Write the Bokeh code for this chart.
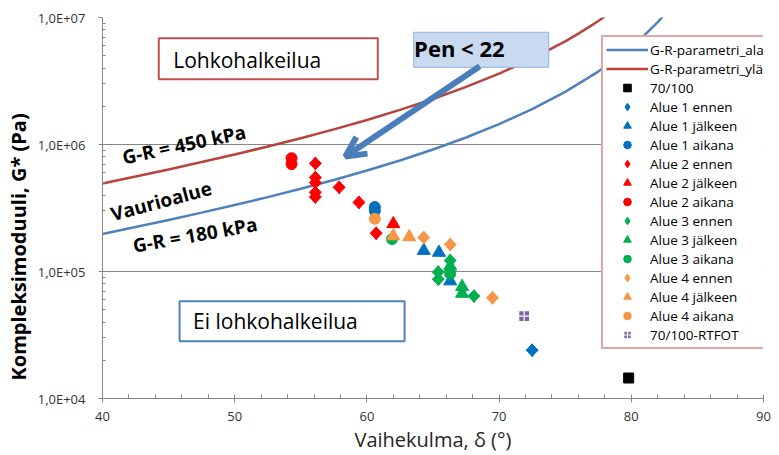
import math
from bokeh.plotting import figure
from bokeh.models import (Legend, LegendItem, Label, Arrow, OpenHead, Title,
                          SingleIntervalTicker, FixedTicker)
from bokeh.embed import file_html
from bokeh.resources import INLINE

FONT = "Open Sans"

# ---- G-R parameter curves ----
gr_ala_delta = [40, 42.5, 45, 47.5, 50, 52.5, 55, 57.5, 60, 62.5, 65, 67.5,
                70, 72.5, 75, 77.5, 79, 80, 81, 82, 83]
gr_ala_g = [1.972e5, 2.237e5, 2.546e5, 2.908e5, 3.337e5, 3.853e5, 4.482e5,
            5.259e5, 6.235e5, 7.489e5, 9.134e5, 1.1355e6, 1.4458e6, 1.8985e6,
            2.595e6, 3.751e6, 4.853e6, 5.879e6, 7.265e6, 9.20e6, 1.203e7]
gr_yla_delta = [40, 42.5, 45, 47.5, 50, 52.5, 55, 57.5, 60, 62.5, 65, 67.5,
                70, 72.5, 75, 76, 77, 77.5, 78.5]
gr_yla_g = [4.93e5, 5.59e5, 6.364e5, 7.27e5, 8.34e5, 9.63e5, 1.1205e6,
            1.315e6, 1.559e6, 1.872e6, 2.2835e6, 2.839e6, 3.6145e6, 4.746e6,
            6.488e6, 7.46e6, 8.667e6, 9.378e6, 1.109e7]

# ---- measured points: phase angle (deg), complex modulus (Pa) ----
b7100_d = [79.8]
b7100_g = [1.45e4]
a1_ennen_d = [72.5, 66.3]
a1_ennen_g = [2.4e4, 1.05e5]
a1_jalkeen_d = [64.3, 65.45, 66.3]
a1_jalkeen_g = [1.46e5, 1.41e5, 8.4e4]
a1_aikana_d = [60.6, 60.6]
a1_aikana_g = [3.22e5, 3.0e5]
a2_ennen_d = [56.1, 56.1, 56.1, 56.1, 56.1, 57.9, 59.4, 60.7]
a2_ennen_g = [7.1e5, 5.5e5, 5.0e5, 4.2e5, 3.86e5, 4.6e5, 3.5e5, 2.0e5]
a2_jalkeen_d = [62.0]
a2_jalkeen_g = [2.37e5]
a2_aikana_d = [54.3, 54.3]
a2_aikana_g = [7.8e5, 7.0e5]
a3_ennen_d = [65.4, 65.4, 66.3, 68.1]
a3_ennen_g = [9.9e4, 8.7e4, 1.22e5, 6.4e4]
a3_jalkeen_d = [66.3, 67.2, 67.2]
a3_jalkeen_g = [1.1e5, 7.6e4, 6.7e4]
a3_aikana_d = [61.9, 66.3]
a3_aikana_g = [1.8e5, 9.6e4]
a4_ennen_d = [64.3, 66.3, 69.5]
a4_ennen_g = [1.85e5, 1.63e5, 6.2e4]
a4_jalkeen_d = [62.0, 63.2]
a4_jalkeen_g = [1.9e5, 1.87e5]
a4_aikana_d = [60.6]
a4_aikana_g = [2.6e5]
rtfot_d = [71.9]
rtfot_g = [4.45e4]

y_ticks = [1e4, 1e5, 1e6, 1e7]
y_labels = ["1,0E+04", "1,0E+05", "1,0E+06", "1,0E+07"]

BLUE_L = "#4F81BD"
RED_L = "#B8433F"
BLUE = "#0070C0"
RED = "#FF0000"
GREEN = "#00B050"
ORANGE = "#F79646"
PURPLE = "#8064A2"
AXC = "#868686"

p = figure(width=779, height=455, x_range=(40, 90), y_range=(1e4, 1e7),
           y_axis_type="log", output_backend="svg", toolbar_location=None,
           min_border_left=99, min_border_right=16, min_border_top=17,
           min_border_bottom=54)
p.outline_line_color = None
p.xgrid.visible = False
p.ygrid.grid_line_color = AXC
p.ygrid.grid_line_width = 1

minor_y = [m * 10 ** k for k in range(4, 7) for m in range(2, 10)]
p.yaxis.ticker = FixedTicker(ticks=y_ticks, minor_ticks=minor_y)
p.ygrid.ticker = FixedTicker(ticks=y_ticks)
p.yaxis.major_label_overrides = {t: l for t, l in zip(y_ticks, y_labels)}
p.xaxis.ticker = SingleIntervalTicker(interval=10, num_minor_ticks=5)

for ax in (p.xaxis[0], p.yaxis[0]):
    ax.axis_line_color = AXC
    ax.major_tick_line_color = AXC
    ax.minor_tick_line_color = AXC
    ax.major_label_text_font = FONT
    ax.major_label_text_font_size = "13px"
    ax.major_label_text_color = "#333333"
p.yaxis.major_tick_out = 4
p.yaxis.major_tick_in = 0
p.yaxis.minor_tick_in = 3
p.yaxis.minor_tick_out = 0
p.yaxis.major_label_standoff = 13
p.xaxis.major_tick_out = 4
p.xaxis.major_tick_in = 3
p.xaxis.minor_tick_in = 4
p.xaxis.minor_tick_out = 0
p.xaxis.major_label_standoff = 9

p.xaxis.axis_label = "Vaihekulma, δ (°)"
p.xaxis.axis_label_text_font = FONT
p.xaxis.axis_label_text_font_size = "20px"
p.xaxis.axis_label_text_font_style = "normal"
p.xaxis.axis_label_text_color = "#262626"
p.xaxis.axis_label_standoff = 2

# y-axis title, placed lower than the frame centre as in the reference
p.add_layout(Title(text="Kompleksimoduuli, G* (Pa)", align="left", offset=18,
                   text_font=FONT, text_font_size="20px",
                   text_font_style="bold", text_color="black", standoff=5),
             "left")

# G-R lines
r_ala = p.line(gr_ala_delta, gr_ala_g, line_color=BLUE_L, line_width=2.5)
r_yla = p.line(gr_yla_delta, gr_yla_g, line_color=RED_L, line_width=2.5)

# annotation boxes (drawn over the lines)
box_x = [52.54, 54.34, 68.65]
box_y = [4.74e6, 4.06e4, 5.57e6]
box_w = [219, 225, 135]
box_h = [41, 40, 35]
p.rect(x=box_x[:1], y=box_y[:1], width=box_w[0], height=box_h[0],
       width_units="screen", height_units="screen",
       fill_color="white", line_color="#C0504D", line_width=2)
p.rect(x=box_x[1:2], y=box_y[1:2], width=box_w[1], height=box_h[1],
       width_units="screen", height_units="screen",
       fill_color="white", line_color=BLUE_L, line_width=2)
p.rect(x=box_x[2:], y=box_y[2:], width=box_w[2], height=box_h[2],
       width_units="screen", height_units="screen",
       fill_color="#C9D9EF", line_color="#8DB3E2", line_width=1)

# scatter series
def sc(d, g, marker, color, size, angle=0.0, line_color=None, lw=1):
    return p.scatter(d, g, marker=marker, size=size, angle=angle,
                     fill_color=color,
                     line_color=line_color if line_color else color,
                     line_width=lw)

def dia(d, g, color):
    # diamond glyph (shown in legend) with a rotated square over it
    r = sc(d, g, "diamond", color, 13)
    sc(d, g, "square", color, 8.5, math.pi / 4)
    return r

r_b = sc(b7100_d, b7100_g, "square", "black", 10)
r1e = dia(a1_ennen_d, a1_ennen_g, BLUE)
r1j = sc(a1_jalkeen_d, a1_jalkeen_g, "triangle", BLUE, 13)
r1a = sc(a1_aikana_d, a1_aikana_g, "circle", BLUE, 11)
r2e = dia(a2_ennen_d, a2_ennen_g, RED)
r2j = sc(a2_jalkeen_d, a2_jalkeen_g, "triangle", RED, 13)
r2a = sc(a2_aikana_d, a2_aikana_g, "circle", RED, 11)
r3e = dia(a3_ennen_d, a3_ennen_g, GREEN)
r3j = sc(a3_jalkeen_d, a3_jalkeen_g, "triangle", GREEN, 13)
r3a = sc(a3_aikana_d, a3_aikana_g, "circle", GREEN, 11)
r4e = dia(a4_ennen_d, a4_ennen_g, ORANGE)
r4j = sc(a4_jalkeen_d, a4_jalkeen_g, "triangle", ORANGE, 13)
r4a = sc(a4_aikana_d, a4_aikana_g, "circle", ORANGE, 11)
r_rt = sc(rtfot_d, rtfot_g, "square_cross", PURPLE, 11, line_color="white", lw=1.2)

# text annotations
def lab(x, y, text, size, bold=False, angle_deg=0.0, align="left", color="black"):
    p.add_layout(Label(x=x, y=y, text=text, text_font=FONT,
                       text_font_size=size,
                       text_font_style="bold" if bold else "normal",
                       text_color=color, angle=math.radians(angle_deg),
                       text_align=align, text_baseline="middle"))

lab(45.35, 4.61e6, "Lohkohalkeilua", "21px")
lab(46.85, 4.06e4, "Ei lohkohalkeilua", "21px")
lab(63.57, 5.73e6, "Pen < 22", "22px", bold=True)
lab(46.17, 1.0e6, "G-R = 450 kPa", "19px", bold=True, angle_deg=12, align="center")
lab(44.44, 3.59e5, "Vaurioalue", "19px", bold=True, angle_deg=15, align="center")
lab(47.0, 1.945e5, "G-R = 180 kPa", "19px", bold=True, angle_deg=10, align="center")

p.add_layout(Arrow(x_start=68.54, y_start=4.14e6, x_end=58.37, y_end=8.05e5,
                   line_color="#4A7EBB", line_width=6,
                   end=OpenHead(line_color="#4A7EBB", line_width=6, size=20)))

labels = ["G-R-parametri_ala", "G-R-parametri_ylä", "70/100", "Alue 1 ennen",
          "Alue 1 jälkeen", "Alue 1 aikana", "Alue 2 ennen", "Alue 2 jälkeen",
          "Alue 2 aikana", "Alue 3 ennen", "Alue 3 jälkeen", "Alue 3 aikana",
          "Alue 4 ennen", "Alue 4 jälkeen", "Alue 4 aikana", "70/100-RTFOT"]
rends = [r_ala, r_yla, r_b, r1e, r1j, r1a, r2e, r2j, r2a, r3e, r3j, r3a,
         r4e, r4j, r4a, r_rt]
legend = Legend(items=[LegendItem(label=l, renderers=[r]) for l, r in zip(labels, rends)],
                location=(499, 49), label_text_font=FONT,
                label_text_font_size="13.5px", label_text_color="black",
                glyph_width=42, glyph_height=19, label_height=19, spacing=0,
                padding=3, margin=0, label_standoff=2, label_width=129,
                border_line_color="#C0504D", border_line_width=2,
                background_fill_color="white", background_fill_alpha=1.0)
p.add_layout(legend)

open("out.html", "w").write(file_html(p, INLINE))
